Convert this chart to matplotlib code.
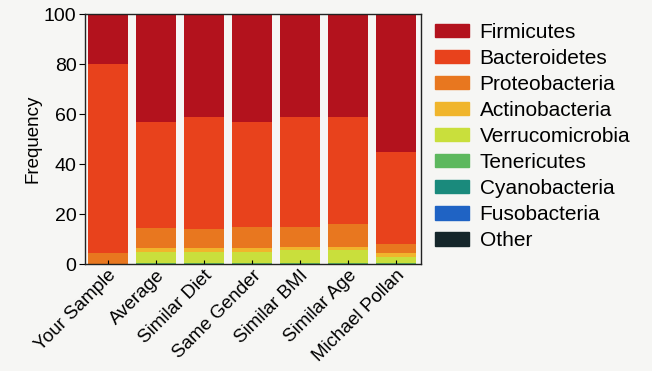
import numpy as np
import matplotlib.pyplot as plt

samples = ["Your Sample", "Average", "Similar Diet", "Same Gender",
           "Similar BMI", "Similar Age", "Michael Pollan"]
phyla = ["Firmicutes", "Bacteroidetes", "Proteobacteria", "Actinobacteria",
         "Verrucomicrobia", "Tenericutes", "Cyanobacteria", "Fusobacteria", "Other"]

# percent per sample
firmicutes      = [20.0, 43.0, 41.0, 43.0, 41.0, 41.0, 55.0]
bacteroidetes   = [75.5, 42.5, 45.0, 42.0, 44.0, 43.0, 37.0]
proteobacteria  = [4.5, 8.0, 7.5, 8.5, 8.0, 9.0, 3.5]
actinobacteria  = [0.0, 1.5, 1.5, 1.5, 1.5, 1.5, 1.5]
verrucomicrobia = [0.0, 4.5, 4.5, 4.5, 5.0, 5.0, 2.5]
tenericutes     = [0.0, 0.5, 0.5, 0.5, 0.5, 0.5, 0.5]
cyanobacteria   = [0.0, 0.0, 0.0, 0.0, 0.0, 0.0, 0.0]
fusobacteria    = [0.0, 0.0, 0.0, 0.0, 0.0, 0.0, 0.0]
other           = [0.0, 0.0, 0.0, 0.0, 0.0, 0.0, 0.0]

colors = ["#b3121d", "#e8421c", "#e8771f", "#f0b52c", "#c9df3c",
          "#5db85e", "#1a8a7c", "#1f63c4", "#15262a"]

series = [firmicutes, bacteroidetes, proteobacteria, actinobacteria,
          verrucomicrobia, tenericutes, cyanobacteria, fusobacteria, other]

plt.rcParams['font.family'] = ['Liberation Sans', 'DejaVu Sans']

fig = plt.figure(figsize=(6.52, 3.71), dpi=100, facecolor="#f6f6f4")
ax = fig.add_axes([0.130, 0.288, 0.516, 0.674])
ax.set_facecolor("#f6f6f4")

x = np.arange(len(samples))
bottom = np.zeros(len(samples))
# stack from the bottom: Other up to Firmicutes
for name, vals, col in reversed(list(zip(phyla, series, colors))):
    ax.bar(x, vals, width=0.83, bottom=bottom, color=col, label=name, linewidth=0)
    bottom += np.array(vals)

ax.set_xlim(-0.48, 6.52)
ax.set_ylim(0, 100)
ax.set_yticks([0, 20, 40, 60, 80, 100])
ax.tick_params(axis='y', direction='out', length=4, labelsize=14, pad=2)
ax.tick_params(axis='x', direction='in', length=3, labelsize=13.5, pad=2)
ax.set_xticks(x)
ax.set_xticklabels(samples, rotation=45, ha='right', rotation_mode='anchor')
ax.set_ylabel("Frequency", fontsize=13.5, labelpad=2)
for s in ax.spines.values():
    s.set_linewidth(1.0)
    s.set_color("#222222")

handles = [plt.Rectangle((0, 0), 1, 1, color=c) for c in colors]
fig.legend(handles, phyla, loc='upper left', bbox_to_anchor=(0.651, 0.967),
           frameon=False, fontsize=15, handlelength=1.65, handleheight=0.6,
           handletextpad=0.5, labelspacing=0.34, borderpad=0)

fig.savefig("out.png", dpi=100, facecolor=fig.get_facecolor())
